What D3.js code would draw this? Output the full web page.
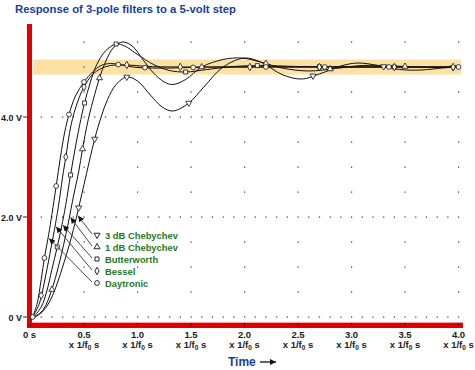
<!DOCTYPE html>
<html>
<head>
<meta charset="utf-8">
<script src="https://cdn.jsdelivr.net/npm/d3@7"></script>
<style>
  body { margin: 0; background: #fff; }
  svg { display: block; font-family: "Liberation Sans", Arial, sans-serif; }
</style>
</head>
<body>
<svg id="chart" width="475" height="370"></svg>
<script>
// values: [time in 1/f0, volts]
const daytronic = [[0.02,0],[0.06,0.25],[0.1,0.75],[0.13,1.18],[0.17,1.65],[0.2,2.05],[0.24,2.62],[0.28,3.2],[0.32,3.7],[0.36,4.05],[0.42,4.42],[0.5,4.7],[0.58,4.9],[0.66,5.03],[0.75,5.07],[0.85,5.04],[1.0,4.99],[1.3,4.98],[1.7,5.0],[4.0,5.0]];
const bessel = [[0.02,0],[0.08,0.25],[0.13,0.7],[0.18,1.25],[0.224,1.75],[0.26,2.2],[0.3,2.8],[0.33,3.2],[0.38,3.85],[0.44,4.3],[0.5,4.6],[0.58,4.85],[0.66,4.97],[0.75,5.03],[0.9,5.04],[1.1,5.01],[1.5,5.0],[4.0,5.0]];
const butterworth = [[0.03,0],[0.1,0.2],[0.15,0.5],[0.2,0.95],[0.25,1.4],[0.29,1.8],[0.33,2.25],[0.374,2.84],[0.42,3.4],[0.47,3.95],[0.505,4.28],[0.56,4.7],[0.62,5.05],[0.7,5.32],[0.8,5.46],[0.88,5.42],[1.0,5.25],[1.15,5.05],[1.3,4.93],[1.45,4.9],[1.65,4.95],[1.9,5.01],[2.15,5.03],[2.5,5.01],[3.0,5.0],[4.0,5.0]];
const cheb1 = [[0.04,0],[0.12,0.15],[0.2,0.55],[0.26,1.0],[0.31,1.45],[0.355,1.9],[0.4,2.4],[0.45,2.9],[0.486,3.36],[0.54,3.95],[0.6,4.45],[0.645,4.78],[0.7,5.1],[0.78,5.4],[0.86,5.5],[0.95,5.42],[1.05,5.15],[1.15,4.88],[1.25,4.7],[1.33,4.65],[1.45,4.75],[1.6,5.0],[1.8,5.15],[1.97,5.18],[2.15,5.1],[2.35,4.98],[2.6,4.92],[2.85,4.97],[3.1,5.03],[3.4,5.02],[3.7,4.99],[4.0,5.0]];
const cheb3 = [[0.04,0],[0.1,0.08],[0.16,0.24],[0.22,0.5],[0.3,1.0],[0.37,1.5],[0.43,2.0],[0.5,2.65],[0.6,3.56],[0.66,4.0],[0.72,4.35],[0.8,4.65],[0.9,4.8],[1.0,4.72],[1.12,4.44],[1.23,4.2],[1.33,4.12],[1.48,4.28],[1.62,4.6],[1.8,5.0],[2.0,5.18],[2.15,5.1],[2.36,4.84],[2.54,4.76],[2.7,4.86],[2.9,5.02],[3.06,5.08],[3.25,5.03],[3.45,4.95],[3.65,4.94],[3.85,4.98],[4.0,5.0]];

// where the little symbols sit on each curve (time)
const daytronicMarks = [0.02,0.13,0.24,0.36,0.5,0.82,1.07,1.52,2.2,2.75,3.35,4.0];
const besselMarks = [0.1,0.33,0.5,0.9,1.4,2.05,2.7,3.4,3.95];
const butterworthMarks = [0.25,0.374,0.505,0.8,1.45,2.12,2.7,3.4];
const cheb1Marks = [0.2,0.486,0.645,1.6,2.2,2.8,3.5];
const cheb3Marks = [0.45,0.6,0.9,1.48,2.64,3.3,3.95];

const legendNames = ["3 dB Chebychev","1 dB Chebychev","Butterworth","Bessel","Daytronic"];
const arrowTimes = [0.435,0.365,0.295,0.23,0.165];

const xTicks = [0,0.5,1.0,1.5,2.0,2.5,3.0,3.5,4.0];
const yTicks = [0,2,4];
const yTickLabels = ["0 V","2.0 V","4.0 V"];
const bandLimits = [4.85,5.15];

const series = [
  {name: legendNames[0], data: cheb3, marks: cheb3Marks, sym: "invtri"},
  {name: legendNames[1], data: cheb1, marks: cheb1Marks, sym: "tri"},
  {name: legendNames[2], data: butterworth, marks: butterworthMarks, sym: "square"},
  {name: legendNames[3], data: bessel, marks: besselMarks, sym: "diamond"},
  {name: legendNames[4], data: daytronic, marks: daytronicMarks, sym: "circle"}
];

const svg = d3.select('#chart');
const x = d3.scaleLinear().domain([0,4]).range([30.5,458.5]);
const y = d3.scaleLinear().domain([0,5]).range([317,67]);

// arrow marker defs
const defs = svg.append('defs');
defs.append('marker')
    .attr('id','head')
    .attr('viewBox','0 0 10 10')
    .attr('refX',10).attr('refY',5)
    .attr('markerWidth',8).attr('markerHeight',6)
    .attr('markerUnits','userSpaceOnUse')
    .attr('orient','auto')
  .append('path').attr('d','M0,0L10,5L0,10z').attr('fill','#111');

// title
svg.append('text')
    .attr('x',15).attr('y',13)
    .attr('font-size',11.3).attr('font-weight','bold')
    .attr('fill','#1440a0')
    .text('Response of 3-pole filters to a 5-volt step');

// tolerance band
svg.append('rect')
    .attr('x',33).attr('width',428)
    .attr('y',y(bandLimits[1])).attr('height',y(bandLimits[0])-y(bandLimits[1]))
    .attr('fill','#fde1a2');

// dotted grid
const grid = svg.append('g').attr('fill','#333');
yTicks.forEach(v=>{
  d3.range(1,41).forEach(i=>{
    grid.append('rect').attr('x',x(i/10)-0.5).attr('y',y(v)-0.5).attr('width',1.2).attr('height',1.2);
  });
});
xTicks.slice(1).forEach(t=>{
  d3.range(1,12).forEach(i=>{
    let v = i*0.5;
    if(yTicks.includes(v)) return;
    grid.append('rect').attr('x',x(t)-0.5).attr('y',y(v)-0.5).attr('width',1.2).attr('height',1.2);
  });
});

// red axis bars
svg.append('rect').attr('x',27).attr('y',24).attr('width',5).attr('height',304).attr('fill','#e00000');
svg.append('rect').attr('x',27).attr('y',323).attr('width',436).attr('height',5).attr('fill','#e00000');
svg.append('rect').attr('x',32).attr('y',322).attr('width',431).attr('height',1).attr('fill','#f6a0a0');

// ticks + labels
const labels = svg.append('g').attr('font-weight','bold').attr('font-size',9.5).attr('fill','#222');
yTicks.forEach((v,i)=>{
  svg.append('line').attr('x1',23).attr('x2',27).attr('y1',y(v)).attr('y2',y(v)).attr('stroke','#222');
  labels.append('text').attr('x',22).attr('y',y(v)+3.5).attr('font-size',9).attr('text-anchor','end').text(yTickLabels[i]);
});
xTicks.forEach(t=>{
  svg.append('line').attr('x1',x(t)).attr('x2',x(t)).attr('y1',323).attr('y2',326).attr('stroke','#222');
  if(t===0){
    labels.append('text').attr('x',x(t)-1).attr('y',338).attr('text-anchor','middle').text('0 s');
    return;
  }
  labels.append('text').attr('x',x(t)).attr('y',338).attr('text-anchor','middle').text(t.toFixed(1));
  let sub = labels.append('text').attr('x',x(t)).attr('y',348).attr('text-anchor','middle');
  sub.append('tspan').text('x 1/f');
  sub.append('tspan').attr('font-size',6.5).attr('dy',2).text('0');
  sub.append('tspan').attr('dy',-2).text(' s');
});

// axis title
svg.append('text').attr('x',228).attr('y',366)
    .attr('font-size',12).attr('font-weight','bold').attr('fill','#1440a0').text('Time');
svg.append('line').attr('x1',260).attr('x2',276).attr('y1',362).attr('y2',362)
    .attr('stroke','#333').attr('stroke-width',1.5).attr('marker-end','url(#head)');

// curves
const line = d3.line().x(d=>x(d[0])).y(d=>y(d[1])).curve(d3.curveCatmullRom.alpha(0.5));
function valueAt(data,t){
  let i = d3.bisector(d=>d[0]).left(data,t);
  if(i<=0) return data[0][1];
  if(i>=data.length) return data[data.length-1][1];
  let a=data[i-1], b=data[i];
  return a[1]+(b[1]-a[1])*(t-a[0])/(b[0]-a[0]);
}
const symbolPath = {
  circle: d3.symbol(d3.symbolCircle,18)(),
  square: d3.symbol(d3.symbolSquare,16)(),
  diamond: d3.symbol(d3.symbolDiamond,16)(),
  tri: d3.symbol(d3.symbolTriangle,16)(),
  invtri: d3.symbol(d3.symbolTriangle,16)()
};

const curves = svg.append('g');
series.forEach(s=>{
  curves.append('path').datum(s.data).attr('d',line)
      .attr('fill','none').attr('stroke','#111').attr('stroke-width',1);
});
series.forEach(s=>{
  curves.selectAll(null).data(s.marks).enter().append('path')
      .attr('d',symbolPath[s.sym])
      .attr('transform',t=>`translate(${x(t)},${y(valueAt(s.data,t))})${s.sym==='invtri'?' rotate(180)':''}`)
      .attr('fill','#fff').attr('stroke','#111').attr('stroke-width',0.8);
});

// legend with leader arrows
const legend = svg.append('g');
series.forEach((s,i)=>{
  let ry = 235 + i*12;
  let tipT = arrowTimes[i];
  legend.append('line')
      .attr('x1',92).attr('y1',ry-1)
      .attr('x2',x(tipT)+1).attr('y2',y(valueAt(s.data,tipT))+1)
      .attr('stroke','#333').attr('stroke-width',0.9).attr('marker-end','url(#head)');
  legend.append('path').attr('d',symbolPath[s.sym])
      .attr('transform',`translate(97,${ry})${s.sym==='invtri'?' rotate(180)':''}`)
      .attr('fill','#fff').attr('stroke','#111').attr('stroke-width',0.9);
  legend.append('text').attr('x',105).attr('y',ry+3.5)
      .attr('font-size',9.4).attr('font-weight','bold').attr('fill','#1f7a1f').text(s.name);
});
</script>
</body>
</html>
